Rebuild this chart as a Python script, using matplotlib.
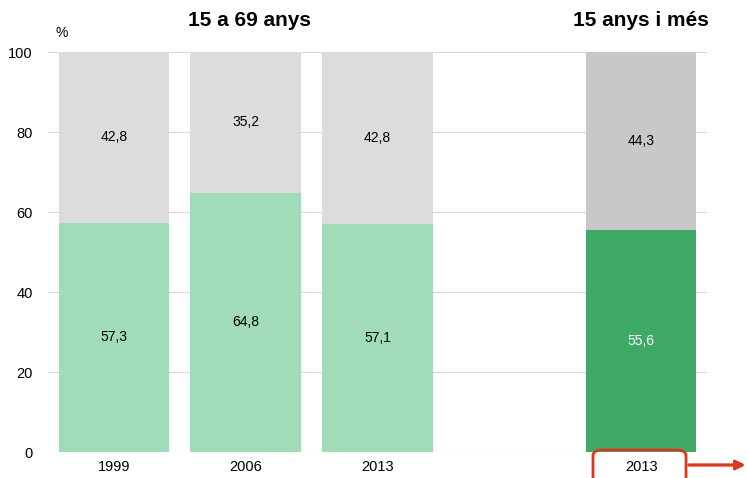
import matplotlib.pyplot as plt
from matplotlib.patches import FancyBboxPatch

plt.rcParams["font.family"] = ["Liberation Sans", "DejaVu Sans"]

years = ["1999", "2006", "2013", "2013"]
positions = [0, 1, 2, 4]
green_vals = [57.3, 64.8, 57.1, 55.6]
gray_vals = [42.8, 35.2, 42.8, 44.3]
green_colors = ["#a0dcb7", "#a0dcb7", "#a0dcb7", "#3eaa66"]
gray_colors = ["#dcdcdc", "#dcdcdc", "#dcdcdc", "#c8c8c8"]
label_colors = ["black", "black", "black", "white"]


def fmt(v):
    return f"{v:.1f}".replace(".", ",")


fig = plt.figure(figsize=(7.48, 4.78), dpi=100)
ax = fig.add_axes([48 / 748, 1 - 452 / 478, (707 - 48) / 748, 400 / 478])

ax.bar(positions, green_vals, width=0.84, color=green_colors, zorder=2)
ax.bar(positions, gray_vals, width=0.84, bottom=green_vals, color=gray_colors, zorder=2)

for x, g, r, c in zip(positions, green_vals, gray_vals, label_colors):
    ax.text(x, g / 2, fmt(g), ha="center", va="center", fontsize=10, color=c, zorder=3)
    ax.text(x, g + r / 2, fmt(r), ha="center", va="center", fontsize=10, color="black", zorder=3)

ax.set_xlim(-0.5, 4.5)
ax.set_ylim(0, 100)
ax.set_yticks(range(0, 101, 20))
ax.set_xticks(positions)
ax.set_xticklabels(years)
ax.tick_params(length=0, labelsize=10.5, pad=6)
ax.tick_params(axis="y", pad=11)
ax.yaxis.grid(True, color="#d9d9d9", linewidth=0.8, zorder=0)
ax.set_axisbelow(True)
for s in ax.spines.values():
    s.set_visible(False)

fig.text(62 / 748, 1 - 33 / 478, "%", fontsize=10, ha="center", va="center")
fig.text(250 / 748, 1 - 20 / 478, "15 a 69 anys", fontsize=15, fontweight="bold", ha="center", va="center")
fig.text(641 / 748, 1 - 20 / 478, "15 anys i més", fontsize=15, fontweight="bold", ha="center", va="center")

# red highlight around last label
box = FancyBboxPatch((593 / 748, -10 / 478), 93 / 748, (28 + 10) / 478,
                     boxstyle="round,pad=0,rounding_size=0.012",
                     transform=fig.transFigure, fill=False,
                     edgecolor="#d93a1e", linewidth=2, clip_on=False)
fig.patches.append(box)
fig.add_artist(plt.annotate("", xy=(748 / 748, 1 - 465 / 478), xytext=(686 / 748, 1 - 465 / 478),
                            xycoords="figure fraction",
                            arrowprops=dict(arrowstyle="-|>", color="#d93a1e", lw=2, mutation_scale=14)))

fig.savefig("out.png", dpi=100)
